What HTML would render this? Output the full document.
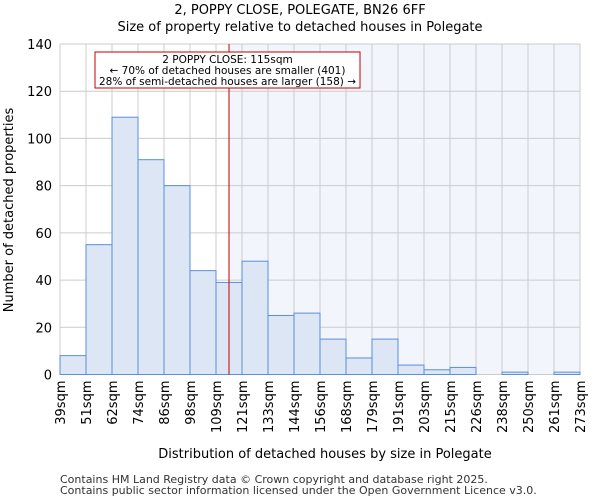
<!DOCTYPE html>
<html><head><meta charset="utf-8"><style>
body{margin:0;background:#fff;font-family:"DejaVu Sans","Liberation Sans",sans-serif;}
</style></head><body>
<svg width="600" height="500" xmlns="http://www.w3.org/2000/svg" font-family="DejaVu Sans, Liberation Sans, sans-serif">
<text x="300" y="14" text-anchor="middle" font-size="13">2, POPPY CLOSE, POLEGATE, BN26 6FF</text>
<text x="300" y="31" text-anchor="middle" font-size="13">Size of property relative to detached houses in Polegate</text>
<g id="plot"></g>
<text x="325" y="458" text-anchor="middle" font-size="13">Distribution of detached houses by size in Polegate</text>
<text transform="translate(13,210) rotate(-90)" text-anchor="middle" font-size="13">Number of detached properties</text>
<text x="60" y="483" font-size="11" fill="#333">Contains HM Land Registry data © Crown copyright and database right 2025.</text>
<text x="60" y="494" font-size="11" fill="#333">Contains public sector information licensed under the Open Government Licence v3.0.</text>
</svg>
<script>
const categories=["39sqm","51sqm","62sqm","74sqm","86sqm","98sqm","109sqm","121sqm","133sqm","144sqm","156sqm","168sqm","179sqm","191sqm","203sqm","215sqm","226sqm","238sqm","250sqm","261sqm","273sqm"];
const counts=[8,55,109,91,80,44,39,48,25,26,15,7,15,4,2,3,0,1,0,1];
const yTicks=[0,20,40,60,80,100,120,140];
const propertyBinPos=6.5;
const NS="http://www.w3.org/2000/svg";
const g=document.getElementById('plot');
const L=60,R=580,T=44,B=374.5,yMax=140;
const bw=(R-L)/counts.length;
const x=i=>L+i*bw;
const y=v=>B-(v/yMax)*(B-T);
function mk(t,a){const e=document.createElementNS(NS,t);for(const k in a)e.setAttribute(k,a[k]);g.appendChild(e);return e;}
const px=x(propertyBinPos);
let e=mk('rect',{x:px,y:T,width:R-px,height:B-T,fill:'#f2f5fc'});


for(let i=0;i<=counts.length;i++){e=mk('line',{x1:x(i),x2:x(i),y1:T,y2:B,stroke:'#cccccc'});

}
yTicks.forEach(v=>{e=mk('line',{x1:L,x2:R,y1:y(v),y2:y(v),stroke:'#cccccc'});


const t=mk('text',{x:L-8,y:y(v)+5,'text-anchor':'end','font-size':13});t.textContent=v;

});
counts.forEach((v,i)=>{e=mk('rect',{x:x(i),y:y(v),width:bw,height:B-y(v),fill:'#dce6f5',stroke:'#5b8fd6','stroke-width':1});

});
categories.forEach((c,i)=>{const t=mk('text',{transform:`translate(${x(i)+5},${B+6}) rotate(-90)`,'text-anchor':'end','font-size':13});t.textContent=c;

});
e=mk('line',{x1:px,x2:px,y1:T,y2:B,stroke:'#c00000','stroke-width':1});


e=mk('rect',{x:95,y:52,width:265,height:36,fill:'#fff',stroke:'#c00000'});


["2 POPPY CLOSE: 115sqm","← 70% of detached houses are smaller (401)","28% of semi-detached houses are larger (158) →"].forEach((s,i)=>{const t=mk('text',{x:227.5,y:63+i*11,'text-anchor':'middle','font-size':10.5});t.textContent=s;

});
</script>
</body></html>
